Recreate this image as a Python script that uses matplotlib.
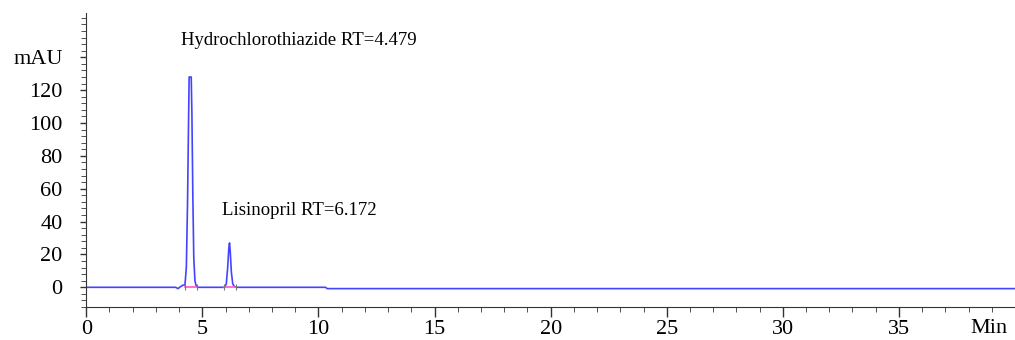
import matplotlib
matplotlib.use('Agg')
import matplotlib.pyplot as plt
from matplotlib.ticker import MultipleLocator, FixedLocator

plt.rcParams['font.family'] = ['Liberation Serif', 'DejaVu Serif']

# chromatogram trace (time in min, signal in mAU)
time = [0, 3.85, 3.95, 4.05, 4.15, 4.25, 4.31, 4.36, 4.40, 4.43, 4.52, 4.55,
        4.59, 4.63, 4.68, 4.73, 4.80, 5.95, 6.03, 6.09, 6.14, 6.17, 6.20,
        6.25, 6.31, 6.38, 6.45, 10.30, 10.38, 40]
signal = [0, 0, -0.8, 0.3, 1.2, 1.5, 12, 50, 95, 128, 128, 105,
          55, 18, 4, 1, 0, 0, 2, 12, 24, 27, 22,
          9, 2, 0.5, 0, 0, -0.8, -0.8]

# integration baselines
peak_start = [4.25, 5.95]
peak_end = [4.76, 6.45]

peak_names = ['Hydrochlorothiazide RT=4.479', 'Lisinopril RT=6.172']
label_x = [4.08, 5.85]
label_y = [150, 47]

y_ticks = [0, 20, 40, 60, 80, 100, 120, 140]
y_labels = ['0', '20', '40', '60', '80', '100', '120', 'mAU']
x_ticks = [0, 5, 10, 15, 20, 25, 30, 35]

fig = plt.figure(figsize=(10.15, 3.4), dpi=100)
ax = fig.add_axes([0.085, 0.097, 0.915, 0.865])

ax.plot(time, signal, color='#4444ff', lw=1.2)
for s, e in zip(peak_start, peak_end):
    ax.plot([s, e], [0, 0], color='#ff55cc', lw=1.2)
    ax.plot([s, e], [0, 0], ls='none', marker='|', ms=5, color='#777777', mew=0.8)

for name, x, y in zip(peak_names, label_x, label_y):
    ax.text(x, y, name, fontsize=13.5, va='center', ha='left')

ax.set_xlim(0, 40)
ax.set_ylim(-12, 167)

ax.xaxis.set_major_locator(FixedLocator(x_ticks))
ax.xaxis.set_minor_locator(MultipleLocator(1))
ax.set_yticks(y_ticks)
ax.set_yticklabels(y_labels)
ax.yaxis.set_minor_locator(MultipleLocator(4))

ax.tick_params(axis='both', which='major', labelsize=16, color='#333333', width=1)
ax.tick_params(axis='x', which='major', length=7, pad=2)
ax.tick_params(axis='y', which='major', length=4, pad=13)
ax.tick_params(axis='both', which='minor', length=3.5, color='#333333')

for side in ['top', 'right']:
    ax.spines[side].set_visible(False)
for side in ['left', 'bottom']:
    ax.spines[side].set_color('#333333')

ax.text(0.972, -0.072, 'Min', transform=ax.transAxes, fontsize=16,
        ha='center', va='center')

fig.savefig('out.png', dpi=100)
